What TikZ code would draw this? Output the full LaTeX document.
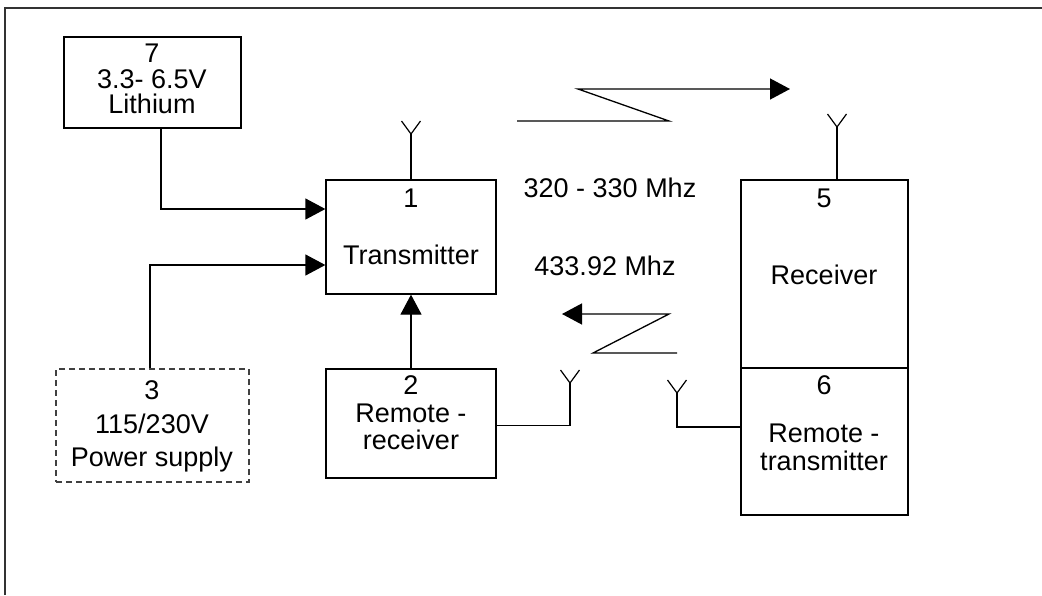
\documentclass[tikz,border=0pt]{standalone}
\usepackage{fontspec}
\setmainfont{Liberation Sans}
\usetikzlibrary{arrows.meta}
\begin{document}
\begin{tikzpicture}[x=1pt,y=-1pt,
  line width=1.3pt,
  box/.style={draw, rectangle, inner sep=0pt},
  dbox/.style={box, dash pattern=on 6pt off 4pt, line width=1.1pt, draw=black!75},
  txt/.style={anchor=base, inner sep=0pt, font=\fontsize{27}{32}\selectfont},
  arr/.style={-{Triangle[length=20pt,width=21pt]}},
  arm/.style={line width=1.2pt}]
\useasboundingbox (0,0) rectangle (1042,595);
% frame
\draw[draw=black!80, line width=1.5pt] (5,595) -- (5,8) -- (1042,8);
% boxes
\node[box, minimum width=177pt, minimum height=91pt] (b7) at (152.5,82.5) {};
\node[box, minimum width=170pt, minimum height=114pt] (b1) at (411,237) {};
\node[dbox, minimum width=193pt, minimum height=113pt] (b3) at (152.5,425.5) {};
\node[box, minimum width=170pt, minimum height=109pt] (b2) at (411,423.5) {};
\node[box, minimum width=167pt, minimum height=188pt] (b5) at (824.5,274) {};
\node[box, minimum width=167pt, minimum height=147pt] (b6) at (824.5,441.5) {};
% texts
\node[txt] (t7a) at (152,62.5) {7};
\node[txt] (t7b) at (152,88.5) {3.3- 6.5V};
\node[txt] (t7c) at (152,113.5) {Lithium};
\node[txt] (t1a) at (411,207.5) {1};
\node[txt] (t1b) at (411,264.5) {Transmitter};
\node[txt] (t3a) at (152,399.5) {3};
\node[txt] (t3b) at (152,433.5) {115/230V};
\node[txt] (t3c) at (152,466.5) {Power supply};
\node[txt] (t2a) at (411,394.5) {2};
\node[txt] (t2b) at (411,422.5) {Remote -};
\node[txt] (t2c) at (411,449.5) {receiver};
\node[txt] (t5a) at (824,207.5) {5};
\node[txt] (t5b) at (824,284.5) {Receiver};
\node[txt] (t6a) at (824,394.5) {6};
\node[txt] (t6b) at (824,442.5) {Remote -};
\node[txt] (t6c) at (824,470.5) {transmitter};
\node[txt] (f1) at (610,197.5) {320 - 330 Mhz};
\node[txt] (f2) at (605,275.5) {433.92 Mhz};
% connectors
\draw[arr] ([xshift=8.5pt]b7.south) |- ([yshift=28pt]b1.west);
\draw[arr] ([xshift=-2.5pt]b3.north) |- ([yshift=-28pt]b1.west);
\draw[arr] (b2.north) -- (b1.south);
% antennas
\coordinate (a1) at (411,134);
\coordinate (a5) at (837,127);
\coordinate (a2) at (570,383);
\coordinate (a6) at (677,393);
\draw (b1.north) -- (a1);
\draw ([xshift=12.5pt]b5.north) -- (a5);
\draw ([yshift=-2pt]b2.east) -| (a2);
\draw ([yshift=14.5pt]b6.west) -| (a6);
\foreach \a in {a1,a5,a2,a6}{
  \draw[arm] (\a) -- ++(-9.5,-13);
  \draw[arm] (\a) -- ++(9.5,-13);
}
% radio zigzags
\draw[arr] (517,121) -- (669,121) -- (578,89) -- (790,89);
\draw[arr] (677,353) -- (593,353) -- (669,314) -- (562,314);
\end{tikzpicture}
\end{document}
